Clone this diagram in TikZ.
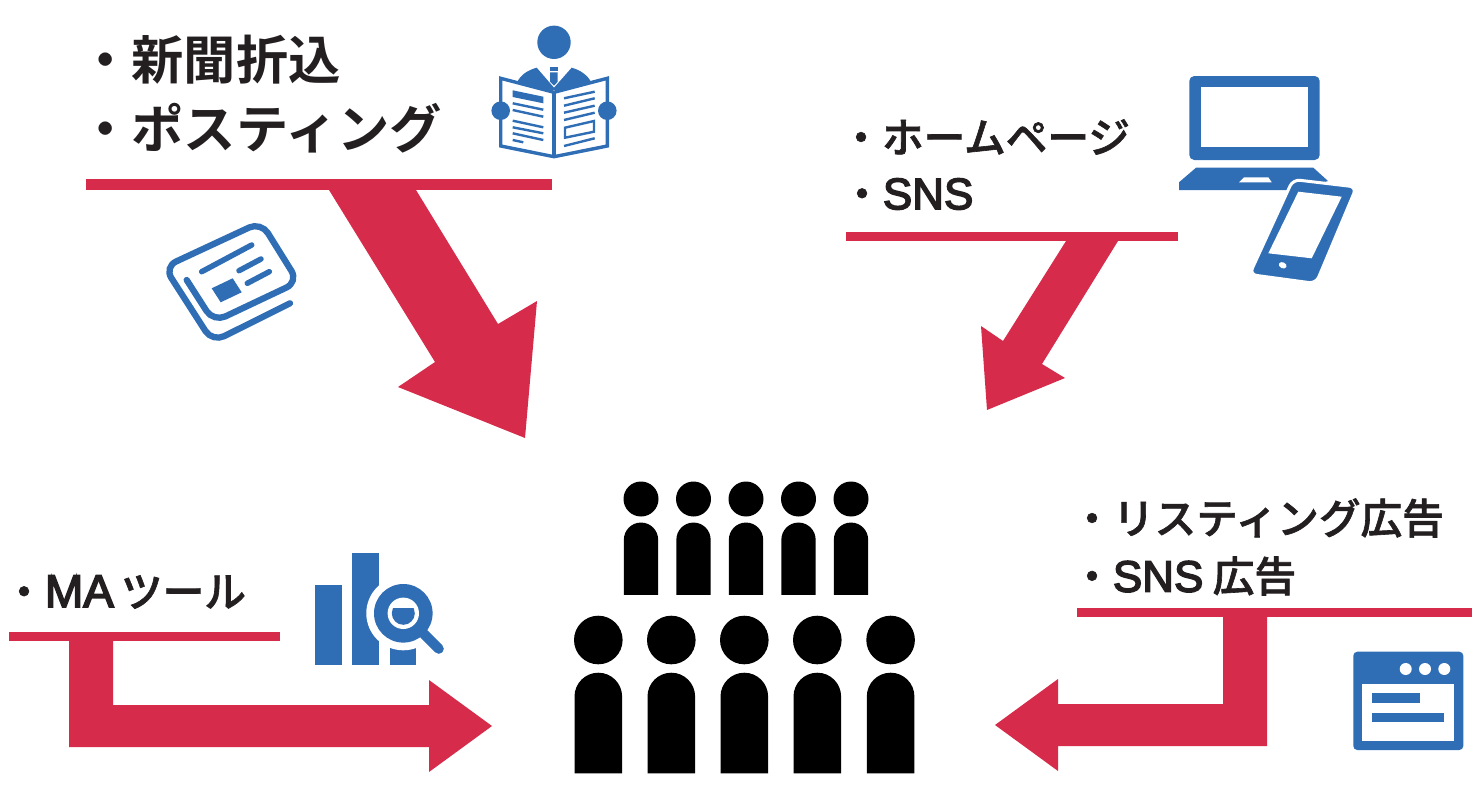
\documentclass[tikz,border=0pt]{standalone}
\usepackage{fontspec}
\setmainfont{Noto Sans CJK JP Bold}
\newfontfamily\midjp[FakeBold=1.5]{Noto Sans CJK JP Medium}
\newfontfamily\latinbold[FakeBold=3.5]{Liberation Sans}
\usepackage{tikz}
\usetikzlibrary{calc,positioning}
\definecolor{arrowred}{HTML}{D62B4B}
\definecolor{iconblue}{HTML}{2F6EB5}
\definecolor{labelink}{HTML}{231F20}
\tikzset{
	bigtext/.style={anchor=west, inner sep=0pt, text=labelink, font=\fontsize{52.3}{60}\selectfont},
	midtext/.style={anchor=west, inner sep=0pt, text=labelink, font=\midjp\fontsize{41.7}{50}\selectfont},
	redarrow/.style={fill=arrowred},
	iconfill/.style={fill=iconblue},
	iconline/.style={draw=iconblue, line width=2.4pt},
	person/.pic={
		\fill[black] (0,0) circle (24.3);
		\fill[black] (-23.8,133.3) -- (-23.8,56.5) arc[start angle=180, end angle=360, radius=23.8] -- (23.8,133.3) -- cycle;
	},
}

\begin{document}
\begin{tikzpicture}[x=1pt, y=-1pt]
		\useasboundingbox (0,0) rectangle (1480,800);
		
		%------------------------------------------------
		% Labels
		%------------------------------------------------
		\node [bigtext] (news) at (79, 60) {・新聞折込};
		\node [bigtext] (post) at (79, 128) {・ポスティング};
		
		\node [midtext] (home) at (840, 137) {・ホームページ};
		\node [midtext] (sns) at (841, 194) {・{\latinbold\fontsize{44}{50}\selectfont SNS}};
		
		\node [midtext] (list) at (1071, 518) {・リスティング広告};
		\node [midtext] (snsad) at (1071, 576) {・{\latinbold\fontsize{44}{50}\selectfont SNS} 広告};
		
		\node [midtext] (ma) at (3, 592) {・{\latinbold\fontsize{46}{50}\selectfont MA}\hspace{7pt}ツール};
		
		%------------------------------------------------
		% Red arrows
		%------------------------------------------------
		\fill [redarrow] (86,179) rectangle (552,190);
		\fill [redarrow] (329,190) -- (435,362) -- (398,387) -- (525,438) -- (537,301) -- (498,324) -- (416,190) -- cycle;
		
		\fill [redarrow] (846,232) rectangle (1178,241);
		\fill [redarrow] (1066,241) -- (1003,341) -- (981,326) -- (987,410) -- (1065,378) -- (1042,364) -- (1118,241) -- cycle;
		
		\fill [redarrow] (9,632) rectangle (280,641);
		\fill [redarrow] (69,641) -- (69,747) -- (429,747) -- (429,772) -- (492,726) -- (429,680) -- (429,705) -- (113,705) -- (113,641) -- cycle;
		
		\fill [redarrow] (1077,608) rectangle (1472,617);
		\fill [redarrow] (1223,617) -- (1223,704) -- (1058,704) -- (1058,679) -- (995,725) -- (1058,771) -- (1058,746) -- (1267,746) -- (1267,617) -- cycle;
		
		%------------------------------------------------
		% People
		%------------------------------------------------
		\pic [scale=0.72] at (641,499) {person};
		\pic [scale=0.72] at (693.5,499) {person};
		\pic [scale=0.72] at (746,499) {person};
		\pic [scale=0.72] at (798.5,499) {person};
		\pic [scale=0.72] at (851,499) {person};
		
		\pic at (598.3,640) {person};
		\pic at (671.3,640) {person};
		\pic at (744.3,640) {person};
		\pic at (817.3,640) {person};
		\pic at (890.6,640) {person};
		
		%------------------------------------------------
		% Reader with newspaper
		%------------------------------------------------
		\fill [iconfill] (554,42.3) circle (16.7);
		\fill [iconfill] (516.7,83.3) .. controls (520,75) and (528,70) .. (536.7,67.7) -- (554,87.7) -- (571.7,67.7) .. controls (580,70) and (588,75) .. (591.7,83.3) -- (591.7,90) -- (516.7,90) -- cycle;
		\fill [white] (548,65) -- (560,65) -- (560,78) -- (554,85) -- (548,78) -- cycle;
		\fill [iconfill] (550,67.3) rectangle (557.7,70.7);
		\fill [iconfill] (550,72.3) -- (557.7,72.3) -- (557.7,81.7) -- (554,85.7) -- (550,81.7) -- cycle;
		\draw [iconline, fill=white, line width=3.4pt] (500.7,78.3) -- (554,92.3) -- (607.3,78.3) -- (607.3,146) -- (554,156.7) -- (500.7,146) -- cycle;
		\draw [iconline, line width=3.4pt] (554,92.3) -- (554,156.7);
		\fill [iconfill] (500.7,110.7) circle (9.3);
		\fill [iconfill] (607.3,110.7) circle (9.3);
		\fill [iconfill] (512.7,90.3) -- (543.3,96.7) -- (543.3,103.3) -- (512.7,97) -- cycle;
		\draw [iconline] (512.7,103.3) -- (543.3,109.7);
		\draw [iconline] (512.7,110) -- (543.3,116.7);
		\draw [iconline] (512.7,120.7) -- (543.3,127.3);
		\draw [iconline] (512.7,127.3) -- (543.3,133.3);
		\draw [iconline] (512.7,133.3) -- (543.3,140);
		\draw [iconline] (512.7,140) -- (523.3,142.3);
		\draw [iconline] (564,98.3) -- (594.7,91.7);
		\draw [iconline] (564,105.7) -- (594.7,98.3);
		\draw [iconline] (564,112.7) -- (594.7,105.7);
		\draw [iconline] (564,120) -- (594.7,112.7);
		\draw [iconline] (565,127.7) -- (594,121) -- (594,131.7) -- (565,137.7) -- cycle;
		\draw [iconline] (564,146) -- (594.7,138.3);
		
		%------------------------------------------------
		% Leaflet
		%------------------------------------------------
		\draw [iconline, line width=6.3pt, line cap=round, rounded corners=13] (186.7,280) -- (213.6,322) -- (298.3,281.9) -- (261,222) -- (164.3,267) -- (212.5,342) -- (290,303.3);
		\draw [iconline, line width=5.5pt, line cap=round] (201.7,271.7) -- (251.7,245);
		\draw [iconline, line width=5.5pt, line cap=round] (239,270.7) -- (261,259);
		\draw [iconline, line width=5.5pt, line cap=round] (247.3,283.3) -- (269.3,271.7);
		\fill [iconfill] (211.7,288.3) -- (232.7,278.3) -- (241.7,292.3) -- (220.7,302.3) -- cycle;
		
		%------------------------------------------------
		% Laptop and phone
		%------------------------------------------------
		\fill [iconfill, rounded corners=5] (1189.3,76) rectangle (1319.7,160);
		\fill [white] (1201.3,87) rectangle (1307.7,147);
		\fill [iconfill] (1196,167.7) -- (1313.3,167.7) -- (1328,181) -- (1300,190) -- (1179,190) -- (1179,182.3) -- cycle;
		\fill [white] (1244,177.3) -- (1268.3,177.3) -- (1271.7,182.3) -- (1239,182.3) -- cycle;
		\draw [draw=white, line width=3pt, fill=iconblue, rounded corners=7] (1293,179.5) -- (1356.5,187) -- (1316,283.5) -- (1249.5,274.5) -- cycle;
		\fill [white] (1298.3,191.7) -- (1341.7,196.7) -- (1311.7,258.3) -- (1268.3,253.3) -- cycle;
		\fill [white, rotate around={-25:(1282.7,265.3)}] (1282.7,265.3) ellipse (4 and 3);
		
		%------------------------------------------------
		% Chart and lens
		%------------------------------------------------
		\fill [iconfill] (315,585.3) rectangle (341.7,665);
		\fill [iconfill] (352.3,553.3) rectangle (379,665);
		\fill [iconfill] (389.7,640) rectangle (416,665);
		\fill [white] (403.3,613.3) circle (37);
		\draw [iconline, line width=10pt, line cap=round] (424,634) -- (438.8,648.8);
		\fill [iconfill] (403.3,613.3) circle (29.3);
		\fill [white] (403.3,613.3) circle (15.7);
		\begin{scope}
			\clip (385,608.3) rectangle (422,630);
			\fill [iconfill] (403.3,613.3) circle (11.5);
		\end{scope}
		
		%------------------------------------------------
		% Browser window
		%------------------------------------------------
		\fill [iconfill, rounded corners=4] (1353.3,651.7) rectangle (1463.3,750);
		\fill [white] (1362.3,683.7) rectangle (1454,741);
		\fill [white] (1405.7,669) circle (6);
		\fill [white] (1425,669) circle (6);
		\fill [white] (1444.3,669) circle (6);
		\fill [iconfill] (1372,693.3) rectangle (1420.3,702.7);
		\fill [iconfill] (1372,712.7) rectangle (1444.3,722.3);
		
	\end{tikzpicture}
\end{document}
